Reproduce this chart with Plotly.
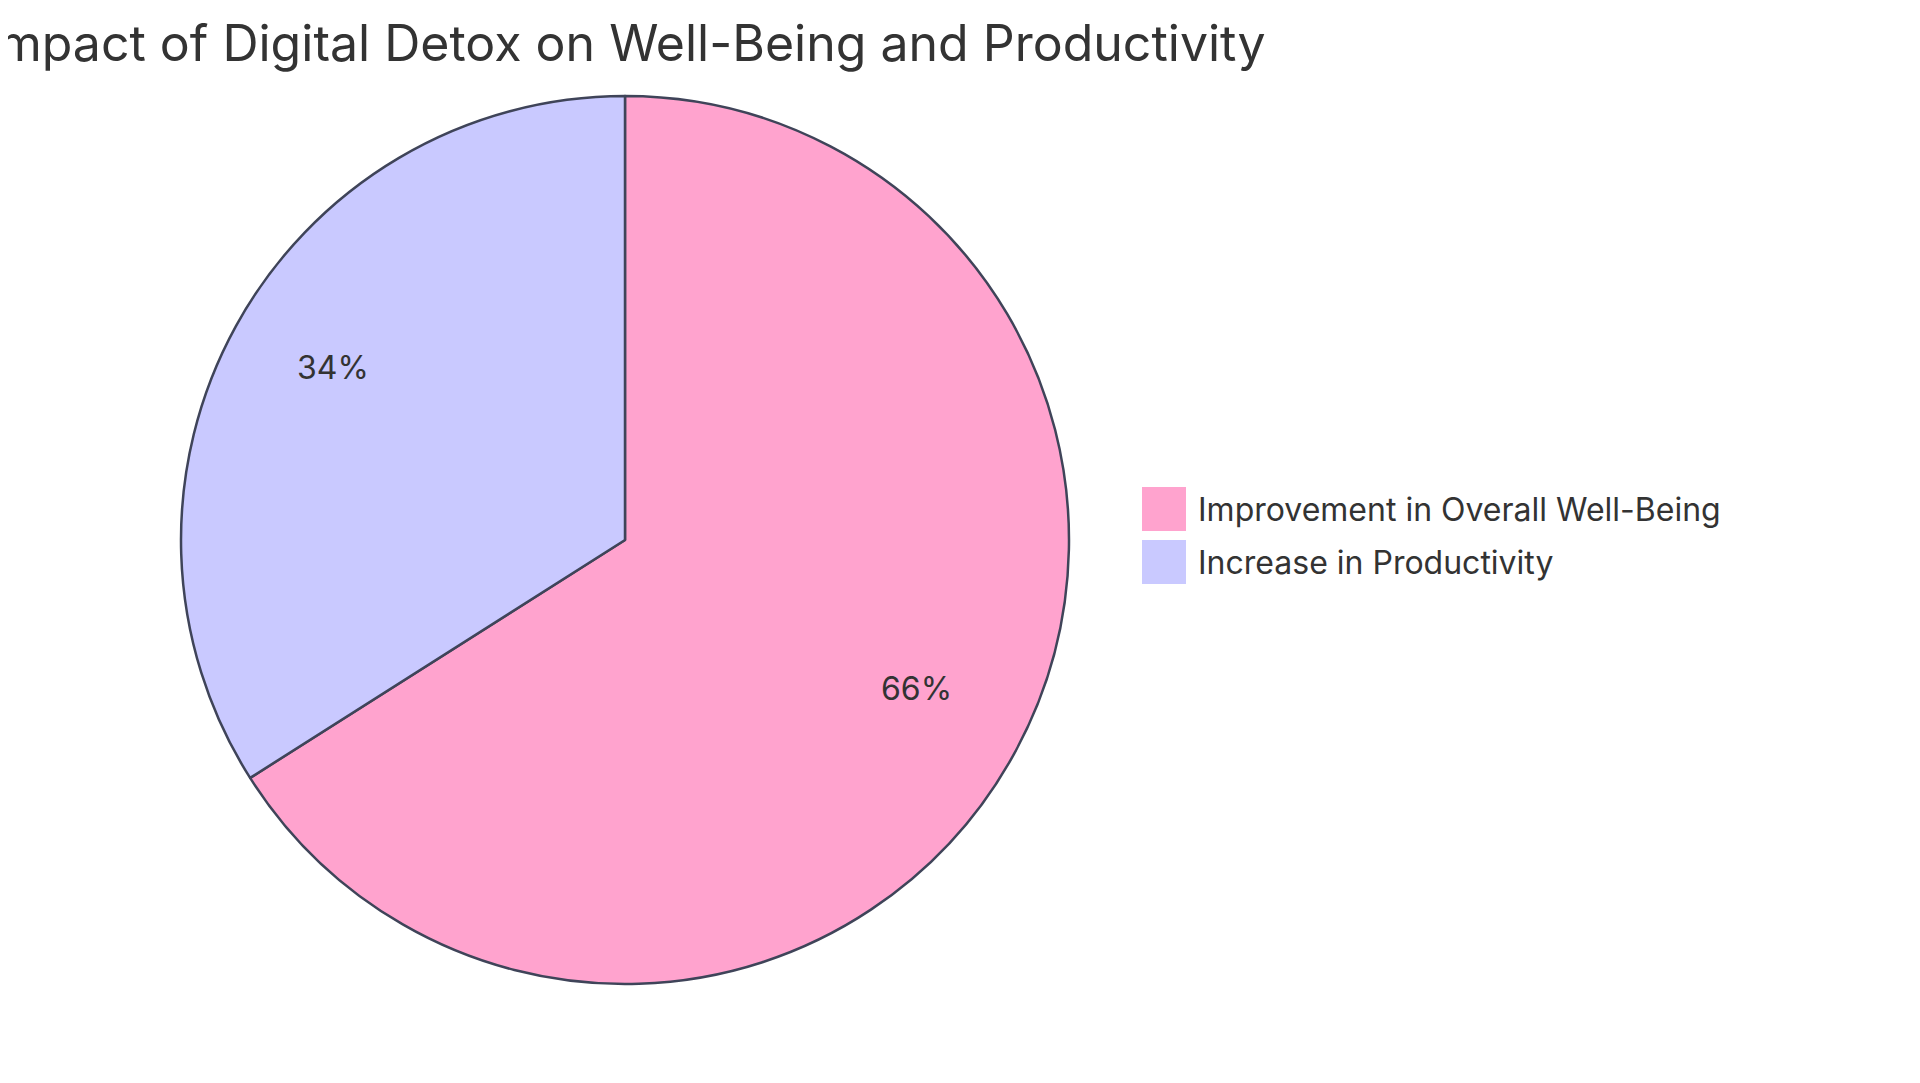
import math
import plotly.graph_objects as go

# данные диаграммы
labels = ["Improvement in Overall Well-Being", "Increase in Productivity"]
values = [66, 34]
colors = ["#FFA3CE", "#C9C9FF"]

title_text = "Impact of Digital Detox on Well-Being and Productivity"

W, H = 1920, 1083
OFF = 8                      # отступ body на странице
cx, cy, r = 625 - OFF, 540 - OFF, 444  # центр и радиус круга в пикселях
text_pos = 0.75              # где ставить подписи процентов (доля радиуса)

fig = go.Figure(go.Pie(
    labels=labels,
    values=values,
    sort=False,
    direction="clockwise",
    rotation=0,
    marker=dict(colors=colors, line=dict(color="#3F4459", width=2.5)),
    textinfo="none",
    showlegend=False,
    domain=dict(
        x=[(cx - r) / W, (cx + r) / W],
        y=[(H - cy - r) / H, (H - cy + r) / H],
    ),
))

# подписи процентов в центроидах секторов
total = sum(values)
start = 0.0
for v in values:
    mid = (start + v / 2) / total * 2 * math.pi
    start += v
    fig.add_annotation(
        x=(cx + text_pos * r * math.sin(mid)) / W,
        y=(H - cy + text_pos * r * math.cos(mid)) / H,
        xref="paper", yref="paper",
        text=f"{round(v / total * 100)}%",
        showarrow=False,
        xanchor="center", yanchor="middle",
        yshift=12,
        font=dict(family="Inter", size=32, color="#333333"),
    )

# легенда: квадратики и подписи
lx, ly, sw, pitch = 1142 - OFF, 509 - OFF, 44, 53
for i, (lab, col) in enumerate(zip(labels, colors)):
    yc = ly + i * pitch
    fig.add_shape(
        type="rect", xref="paper", yref="paper",
        x0=lx / W, x1=(lx + sw) / W,
        y0=(H - yc - sw / 2) / H, y1=(H - yc + sw / 2) / H,
        fillcolor=col, line=dict(width=0),
    )
    fig.add_annotation(
        x=(lx + sw + 10) / W, y=(H - yc) / H,
        xref="paper", yref="paper",
        text=lab, showarrow=False,
        xanchor="left", yanchor="middle",
        font=dict(family="Inter", size=32, color="#333333"),
    )

fig.update_layout(
    width=W,
    height=H,
    margin=dict(l=0, r=0, t=0, b=0),
    paper_bgcolor="white",
    plot_bgcolor="white",
    font=dict(family="Inter", color="#333333"),
    title=dict(
        text=title_text,
        x=cx / W,
        xanchor="center",
        y=1 - (43 - OFF) / H,
        yanchor="middle",
        font=dict(family="Inter", size=50, color="#333333"),
    ),
)

fig.write_html("out.html")
